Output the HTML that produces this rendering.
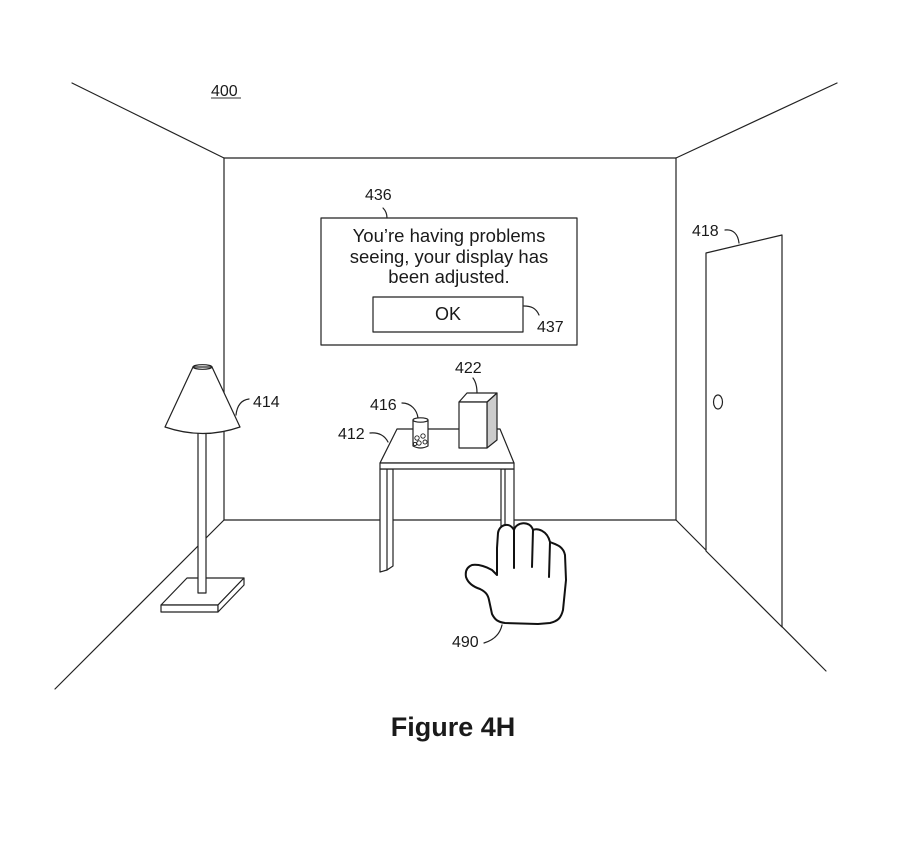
<!DOCTYPE html>
<html>
<head>
<meta charset="utf-8">
<style>
html,body{margin:0;padding:0;background:#fff;}
svg{display:block;}
text{font-family:"Liberation Sans",Arial,sans-serif;fill:#1a1a1a;}
</style>
</head>
<body>
<svg width="900" height="850" viewBox="0 0 900 850" xmlns="http://www.w3.org/2000/svg">
<g fill="none" stroke="#222" stroke-width="1.2" stroke-linecap="round" stroke-linejoin="round">
  <!-- room -->
  <line x1="72" y1="83" x2="224" y2="158"/>
  <line x1="224" y1="158" x2="676" y2="158"/>
  <line x1="676" y1="158" x2="837" y2="83"/>
  <line x1="224" y1="158" x2="224" y2="520"/>
  <line x1="676" y1="158" x2="676" y2="520"/>
  <line x1="224" y1="520" x2="676" y2="520"/>
  <line x1="224" y1="520" x2="55" y2="689"/>
  <line x1="676" y1="520" x2="826" y2="671"/>

  <!-- door -->
  <polygon points="706,253 782,235 782,627 706,551" fill="#fff"/>
  <ellipse cx="718" cy="402" rx="4.5" ry="7"/>
  <path d="M725,230 C733,229 738,234 739,243"/>

  <!-- dialog -->
  <rect x="321" y="218" width="256" height="127" fill="#fff"/>
  <rect x="373" y="297" width="150" height="35"/>
  <path d="M383,208 C386,211 387,214 387,218"/>
  <path d="M524,306 C531,306 536,308 539,315"/>

  <!-- lamp base -->
  <polygon points="187,578 244,578 218,605 161,605" fill="#fff"/>
  <polygon points="161,605 218,605 218,612 161,612" fill="#fff"/>
  <polygon points="218,605 244,578 244,585 218,612" fill="#fff"/>
  <!-- lamp pole -->
  <rect x="198" y="430" width="8" height="163" fill="#fff"/>
  <!-- lamp shade -->
  <path d="M193,367 L165,427 Q203,440 240,427 L212,367 Z" fill="#fff"/>
  <ellipse cx="202.5" cy="367" rx="9.5" ry="2.3"/>
  <path d="M249,399 C241,400 237,406 236,415"/>

  <!-- table -->
  <polygon points="380,469 393,469 393,566 387,570 380,572" fill="#fff"/>
  <line x1="387" y1="469" x2="387" y2="570"/>
  <polygon points="501,469 514,469 514,560 501,560" fill="#fff"/>
  <line x1="505" y1="469" x2="505" y2="560"/>
  <polygon points="397,429 500,429 514,463 380,463" fill="#fff"/>
  <rect x="380" y="463" width="134" height="6" fill="#fff"/>
  <path d="M370,433 C379,432 385,436 388,442"/>

  <!-- glass -->
  <path d="M413,420 L413,446 Q420.5,450 428,446 L428,420" fill="#fff"/>
  <ellipse cx="420.5" cy="420" rx="7.5" ry="2.2" fill="#fff"/>
  <circle cx="417" cy="438" r="2.2" stroke-width="0.9"/>
  <circle cx="423" cy="436" r="2.2" stroke-width="0.9"/>
  <circle cx="419" cy="443" r="2.2" stroke-width="0.9"/>
  <circle cx="425" cy="442" r="2" stroke-width="0.9"/>
  <circle cx="415" cy="444" r="1.6" stroke-width="0.9"/>
  <path d="M402,403 C411,403 417,410 418,418"/>

  <!-- box -->
  <polygon points="487,402 497,393 497,440 487,448" fill="#ccc"/>
  <polygon points="459,402 467,393 497,393 487,402" fill="#fff"/>
  <rect x="459" y="402" width="28" height="46" fill="#fff"/>
  <path d="M473,378 C476,382 477,387 477,393"/>

  <!-- hand -->
  <path d="M497,575 L497,548 L498,533 C499,525 509,521 514,530 C516,522 530,520 533,530 C537,528 547,530 550,542 C554,544 563,545 565,555 L566,580 L563,610 C561,618 558,621 550,623 L538,624 L505,623 C498,622 495,620 492,614 L489,600 C488,595 486,592 480,589 C474,587 468,583 466,577 C465,571 467,567 472,565 C479,564 487,567 492,570 Z" fill="#fff" stroke="#111" stroke-width="2"/>
  <path d="M514,530 L514,568" stroke="#111" stroke-width="2"/>
  <path d="M533,530 L532,567" stroke="#111" stroke-width="2"/>
  <path d="M550,542 L549,577" stroke="#111" stroke-width="2"/>
  <path d="M484,643 C494,640 500,634 502,625"/>
</g>

<!-- labels -->
<text x="211" y="96" font-size="16">400</text>
<line x1="211" y1="98" x2="241" y2="98" stroke="#333" stroke-width="1"/>
<text x="365" y="200" font-size="16">436</text>
<text x="449" y="242" font-size="18.5" text-anchor="middle">You’re having problems</text>
<text x="449" y="263" font-size="18.5" text-anchor="middle">seeing, your display has</text>
<text x="449" y="283" font-size="18.5" text-anchor="middle">been adjusted.</text>
<text x="448" y="320" font-size="18" text-anchor="middle">OK</text>
<text x="537" y="332" font-size="16">437</text>
<text x="692" y="236" font-size="16">418</text>
<text x="253" y="407" font-size="16">414</text>
<text x="455" y="373" font-size="16">422</text>
<text x="370" y="410" font-size="16">416</text>
<text x="338" y="439" font-size="16">412</text>
<text x="452" y="647" font-size="16">490</text>
<text x="453" y="736" font-size="27" font-weight="bold" text-anchor="middle">Figure 4H</text>
</svg>
</body>
</html>
